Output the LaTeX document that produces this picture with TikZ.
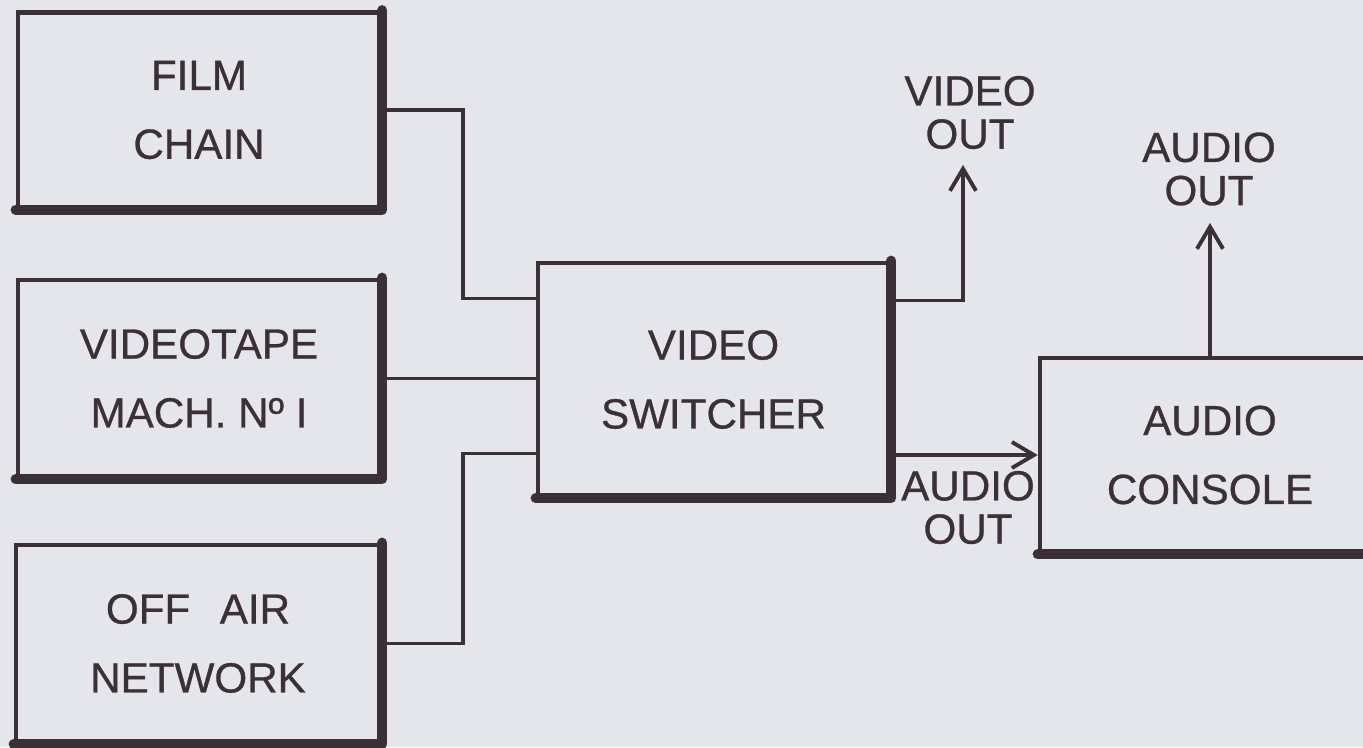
\documentclass[tikz,border=0pt]{standalone}
\usepackage{fontspec}
\setmainfont{Liberation Sans}[FakeBold=0.7]
\usetikzlibrary{arrows.meta, calc}
\definecolor{paper}{HTML}{E5E6EB}
\definecolor{ink}  {HTML}{3A3035}

\tikzset{
  blk/.style={draw=ink, line width=1.3pt, align=center, text=ink,
    font=\fontsize{12}{19.6}\selectfont},
  heavy/.style={draw=ink, line width=2.9pt, line cap=round, line join=round},
  wire/.style={draw=ink, line width=1.1pt},
  feed/.style={wire, -{Straight Barb[length=2.2mm, width=2.6mm, line width=1.1pt]}},
  tag/.style={align=center, text=ink, inner sep=0pt,
    font=\fontsize{12}{12.3}\selectfont}
}

\begin{document}
\begin{tikzpicture}
    \fill[paper] (0, 0) rectangle (13.63, -7.47);
    \useasboundingbox (0, 0) rectangle (13.63, -7.47);

    % --- sources ---------------------------------------------------------------
    \node[blk, minimum width=3.62cm, minimum height=1.95cm] (film) at (1.99, -1.10)
      {FILM\\CHAIN};
    \node[blk, minimum width=3.62cm, minimum height=1.97cm] (vtr) at (1.99, -3.785)
      {VIDEOTAPE\\MACH. Nº I};
    \node[blk, minimum width=3.64cm, minimum height=1.97cm] (offair) at (1.98, -6.435)
      {OFF\hspace{0.7em}AIR\\NETWORK};

    % --- switcher and console --------------------------------------------------
    \node[blk, minimum width=3.51cm, minimum height=2.33cm] (switcher) at (7.135, -3.795)
      {VIDEO\\SWITCHER};
    \node[blk, minimum width=3.40cm, minimum height=1.94cm] (console) at (12.10, -4.55)
      {AUDIO\\CONSOLE};

    % heavy right and bottom edges
    \foreach \n in {film, vtr, offair, switcher, console}
      \draw[heavy] (\n.north east) -- (\n.south east) -- (\n.south west);

    % --- outputs ---------------------------------------------------------------
    \node[tag] (vidout) at (9.70, -1.125) {VIDEO\\OUT};
    \node[tag] (swaud)  at (9.68, -5.075) {AUDIO\\OUT};
    \node[tag] (conaud) at (12.09, -1.69) {AUDIO\\OUT};
    \coordinate (vtip) at (9.63, -1.65);
    \coordinate (atip) at (12.10, -2.23);

    % --- connectors ------------------------------------------------------------
    \draw[wire] (film.east) -- ++(0.81, 0) |- ([yshift=8.1mm]switcher.west);
    \draw[wire] (vtr.east) -- (vtr.east -| switcher.west);
    \draw[wire] (offair.east) -- ++(0.81, 0) |- ([yshift=-7.4mm]switcher.west);
    \draw[feed] ([yshift=7.9mm]switcher.east) -| (vtip);
    \draw[feed] (switcher.east |- console.west) -- (console.west);
    \draw[feed] (console.north) -- (atip);
\end{tikzpicture}
\end{document}
